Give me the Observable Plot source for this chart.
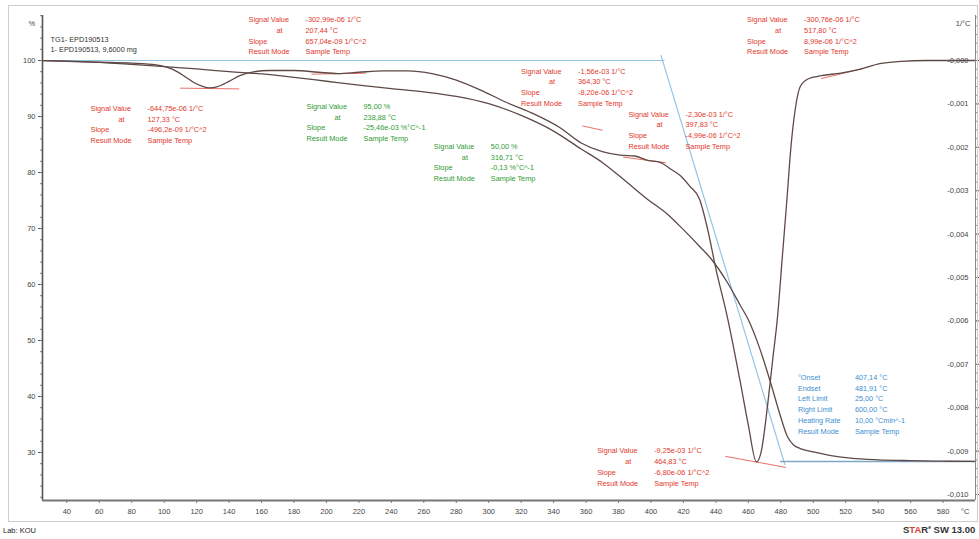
<!DOCTYPE html>
<html><head><meta charset="utf-8">
<script src="https://cdn.jsdelivr.net/npm/d3@7"></script>
<script src="https://cdn.jsdelivr.net/npm/@observablehq/plot@0.6"></script>
<style>
body{margin:0;background:#fff;font-family:"Liberation Sans",Arial,sans-serif;}
#wrap{position:relative;width:979px;height:539px;overflow:hidden;background:#fff;}
#chart{position:absolute;left:0;top:0;}
#frame{position:absolute;left:8px;top:5px;width:968px;height:515px;border:1px solid #cdcdcd;pointer-events:none;}
#lab{position:absolute;left:3px;top:526px;font-size:7.5px;color:#222;}
#star{position:absolute;left:903px;top:524px;font-size:9.5px;font-weight:bold;color:#333;white-space:nowrap;}
#star sup{font-size:5px;}
</style></head>
<body><div id="wrap"><div id="chart"></div><div id="frame"></div>
<div id="lab">Lab: KOU</div>
<div id="star">S<span style="color:#d8443a">TA</span>R<sup>e</sup> SW 13.00</div></div>
<script>
// ---- TGA curve (mass %, left axis)
const tgaT   = [25, 50, 75, 100, 120, 140, 160, 180, 200, 220, 240, 260, 280, 300, 320, 340, 357, 370, 385, 398, 410, 420, 430, 437, 447, 455, 460, 467, 474, 480, 484, 488, 492, 500, 510, 523, 540, 560, 580, 600];
const tgaPct = [100, 99.8, 99.4, 98.9, 98.5, 98.0, 97.6, 97.0, 96.3, 95.6, 95.0, 94.4, 93.6, 92.3, 90.2, 87.4, 84.2, 81.8, 78.3, 75.2, 72.6, 69.8, 66.8, 64.6, 60.4, 56.3, 53.7, 48.6, 42.2, 36.3, 32.9, 31.3, 30.7, 30.1, 29.5, 29.0, 28.7, 28.55, 28.45, 28.4];
// ---- DTG curve (1/°C, right axis)
const dtgT   = [25, 40, 60, 80, 95, 105, 112, 118, 124, 128, 133, 140, 147, 155, 165, 180, 195, 207, 220, 235, 250, 265, 280, 295, 310, 326, 344, 357, 370, 381, 390, 398, 406, 412, 418, 424, 430, 435, 440, 447, 455, 460, 465, 468, 472, 475, 478, 481, 484, 486, 489, 492, 497, 505, 517, 529, 541, 554, 570, 600];
const dtgVal = [0, -0.00002, -0.00004, -0.00006, -0.0001, -0.0002, -0.00035, -0.0005, -0.0006, -0.00063, -0.0006, -0.00048, -0.00034, -0.00026, -0.00023, -0.00023, -0.00027, -0.0003, -0.00027, -0.00024, -0.00024, -0.0003, -0.00045, -0.00068, -0.00095, -0.0012, -0.00155, -0.0019, -0.0021, -0.00218, -0.0022, -0.0023, -0.00235, -0.0025, -0.00265, -0.0029, -0.0032, -0.0039, -0.0048, -0.0059, -0.0074, -0.0084, -0.00925, -0.009, -0.0079, -0.0069, -0.0059, -0.0045, -0.0031, -0.0021, -0.0011, -0.0006, -0.00042, -0.00035, -0.00029, -0.0002, -0.00007, -0.00002, 0, 0];
// ---- axes ticks
const xTicks = d3.range(40, 581, 20);
const yTicks = d3.range(30, 101, 10);
const dtgTicks = d3.range(0, 11).map(i => -i / 1000);
const dtgTickLabels = dtgTicks.map((d, i) => "-0," + String(i).padStart(3, "0"));
// ---- legend
const legendLines = ["TG1- EPD190513", "1- EPD190513, 9,6000 mg"];
// ---- evaluations (DTG, red)
const noteLabels = ["Signal Value", "at", "Slope", "Result Mode"];
const redAt = [127.33, 207.44, 364.30, 397.83, 464.83, 517.80];
const redSignal = [-644.75e-6, -302.99e-6, -1.56e-3, -2.30e-3, -9.25e-3, -300.76e-6];
const redSlope = [-496.2e-9, 657.04e-9, -8.20e-6, -4.99e-6, -6.80e-6, 8.99e-6];
const redSignalText = ["-644,75e-06 1/°C", "-302,99e-06 1/°C", "-1,56e-03 1/°C", "-2,30e-03 1/°C", "-9,25e-03 1/°C", "-300,76e-06 1/°C"];
const redAtText = ["127,33 °C", "207,44 °C", "364,30 °C", "397,83 °C", "464,83 °C", "517,80 °C"];
const redSlopeText = ["-496,2e-09 1/°C^2", "657,04e-09 1/°C^2", "-8,20e-06 1/°C^2", "-4,99e-06 1/°C^2", "-6,80e-06 1/°C^2", "8,99e-06 1/°C^2"];
const redTanFrom = [110, 191, 358, 383, 446, 505];
const redTanTo = [146, 224, 370, 409, 483, 531];
// ---- evaluations (TGA, green)
const greenAt = [238.88, 316.71];
const greenSignal = [95.00, 50.00];
const greenSignalText = ["95,00 %", "50,00 %"];
const greenAtText = ["238,88 °C", "316,71 °C"];
const greenSlopeText = ["-25,46e-03 %°C^-1", "-0,13 %°C^-1"];
// ---- onset evaluation (blue)
const onsetLabels = ["°Onset", "Endset", "Left Limit", "Right Limit", "Heating Rate", "Result Mode"];
const onsetValues = ["407,14 °C", "481,91 °C", "25,00 °C", "600,00 °C", "10,00 °Cmin^-1", "Sample Temp"];
const onsetT = 407.14, endsetT = 481.91, leftLimit = 25, rightLimit = 600;
const startLevel = 100, endLevel = 28.4;

// ---- layout (pixel offsets of text blocks relative to their anchor point)
const redOffsets = [[-118, 20], [-90, -54], [-72, -57], [-19, -46], [-159, -11], [-95, -54]];
const greenOffsets = [[-83, 18], [-82, -194]];
const blueOffset = [14, -84];
const lineStep = 10.8, valueCol = 57, atIndent = 28;

const K = 7750; // right axis (1/°C) mapped onto the left axis (%): -0.001 1/°C = 7.75 %
const toPct = d => 100 + d * K;
const yMin = 21.43, yMax = 108.04;

const RED = "#e2372c", GREEN = "#2f9b33", BLUE = "#3d8fd3", LBLUE = "#93c4e6", CURVE = "#5e4946";
const tga = tgaT.map((t, i) => ({T: t, p: tgaPct[i]}));
const dtg = dtgT.map((t, i) => ({T: t, p: toPct(dtgVal[i])}));

// tangent line of onset evaluation
const tanSlope = (endLevel - startLevel) / (endsetT - onsetT);
const tanLine = [onsetT - 0.9, endsetT + 0.6].map(t => ({T: t, p: startLevel + tanSlope * (t - onsetT)}));
const baseLine = [{T: leftLimit, p: startLevel}, {T: onsetT + 1, p: startLevel}];
const endLine = [{T: endsetT - 2, p: endLevel}, {T: rightLimit, p: endLevel}];

function textBlock(xv, yv, off, labels, values, color, withAt) {
  const marks = [];
  labels.forEach((lab, j) => {
    const dy = off[1] + j * lineStep;
    marks.push(Plot.text([{x: xv, y: yv, t: lab}], {x: "x", y: "y", text: "t", dx: off[0] + (withAt && j === 1 ? atIndent : 0), dy, textAnchor: "start", fill: color, fontSize: 7.3}));
    marks.push(Plot.text([{x: xv, y: yv, t: values[j]}], {x: "x", y: "y", text: "t", dx: off[0] + valueCol, dy, textAnchor: "start", fill: color, fontSize: 7.3}));
  });
  return marks;
}

const marks = [];
// blue onset construction
marks.push(Plot.line(baseLine, {x: "T", y: "p", stroke: LBLUE, strokeWidth: 1.2}));
marks.push(Plot.line(tanLine, {x: "T", y: "p", stroke: LBLUE, strokeWidth: 1.2}));
marks.push(Plot.line(endLine, {x: "T", y: "p", stroke: "#7fa6c8", strokeWidth: 1.6}));
// red tangents
redAt.forEach((a, i) => {
  const seg = [redTanFrom[i], redTanTo[i]].map(t => ({T: t, p: toPct(redSignal[i] + redSlope[i] * (t - a))}));
  marks.push(Plot.line(seg, {x: "T", y: "p", stroke: RED, strokeWidth: 0.9, strokeOpacity: 0.8}));
});
// curves
marks.push(Plot.line(tga, {x: "T", y: "p", stroke: CURVE, strokeWidth: 1.3, curve: "monotone-x"}));
marks.push(Plot.line(dtg, {x: "T", y: "p", stroke: CURVE, strokeWidth: 1.3, curve: "monotone-x"}));
// axes lines
marks.push(Plot.ruleX([leftLimit], {stroke: "#555", strokeWidth: 1.6}));
marks.push(Plot.ruleX([rightLimit], {stroke: "#888", strokeWidth: 1}));
marks.push(Plot.ruleY([yMin], {stroke: "#777", strokeWidth: 2}));
// left axis
marks.push(Plot.axisY({ticks: yTicks, tickSize: 4, tickPadding: 3, label: null, fill: "#444", stroke: "#555", fontSize: 7.5}));
marks.push(Plot.axisY({ticks: d3.range(22, 108.1, 2), tickSize: 2, tickFormat: () => "", label: null, stroke: "#777"}));
// right axis
marks.push(Plot.axisY({anchor: "right", ticks: dtgTicks.map(toPct), tickFormat: (v, i) => dtgTickLabels[i], tickSize: 3, tickPadding: -10, textAnchor: "end", label: null, fill: "#444", stroke: "#555", fontSize: 7.5}));
marks.push(Plot.axisY({anchor: "right", ticks: d3.range(5, -51, -1).map(k => toPct(k * 0.0002)).filter(v => v >= yMin && v <= yMax), tickSize: 2, tickFormat: () => "", label: null, stroke: "#888"}));
// bottom axis
marks.push(Plot.axisX({ticks: xTicks, tickSize: 3, tickPadding: 5, label: null, fill: "#444", stroke: "#777", fontSize: 7.5}));
// unit labels and legend
marks.push(Plot.text(["%"], {frameAnchor: "top-left", dx: -14, dy: 5, fill: "#444", fontSize: 7.5}));
marks.push(Plot.text(["1/°C"], {frameAnchor: "top-right", dx: -5, dy: 5, textAnchor: "end", fill: "#444", fontSize: 7.5}));
marks.push(Plot.text(["°C"], {frameAnchor: "bottom-right", dx: -6, dy: 13, textAnchor: "end", fill: "#444", fontSize: 7.5}));
legendLines.forEach((l, i) => marks.push(Plot.text([l], {frameAnchor: "top-left", dx: 8, dy: 21 + i * 10.5, textAnchor: "start", fill: "#333", fontSize: 7.3})));
// annotation blocks
redAt.forEach((a, i) => marks.push(...textBlock(a, toPct(redSignal[i]), redOffsets[i], noteLabels, [redSignalText[i], redAtText[i], redSlopeText[i], "Sample Temp"], RED, true)));
greenAt.forEach((a, i) => marks.push(...textBlock(a, greenSignal[i], greenOffsets[i], noteLabels, [greenSignalText[i], greenAtText[i], greenSlopeText[i], "Sample Temp"], GREEN, true)));
marks.push(...textBlock(endsetT, endLevel, blueOffset, onsetLabels, onsetValues, BLUE, false));

const chart = Plot.plot({
  width: 979, height: 522,
  marginLeft: 42, marginRight: 4, marginTop: 15, marginBottom: 22,
  x: {domain: [leftLimit, rightLimit]},
  y: {domain: [yMin, yMax]},
  style: {fontFamily: "'Liberation Sans', Arial, sans-serif", fontSize: "7.5px", background: "white", overflow: "visible"},
  marks
});
document.getElementById("chart").appendChild(chart);
</script>
</body></html>
